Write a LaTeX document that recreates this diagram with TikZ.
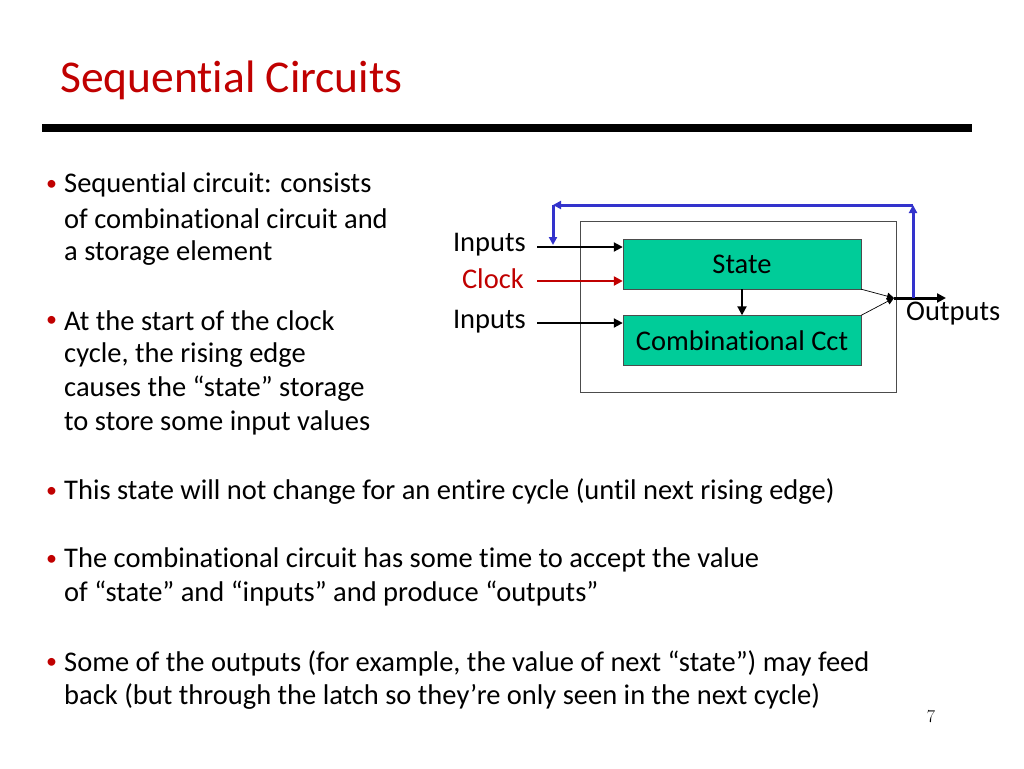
\documentclass[tikz,border=0pt]{standalone}
\usepackage{fontspec}
\setmainfont[RawFeature=-liga]{Carlito}
\usetikzlibrary{arrows.meta}
\definecolor{ttl}{RGB}{192,0,0}
\definecolor{grn}{RGB}{0,204,153}
\definecolor{fb}{RGB}{51,51,204}
\begin{document}
\begin{tikzpicture}[x=1pt,y=-1pt,
  txt/.style={anchor=west,inner sep=0pt,font=\fontsize{28.5}{32}\selectfont},
  lbl/.style={anchor=east,inner sep=0pt,font=\fontsize{28.5}{32}\selectfont},
  blk/.style={draw=black!70,fill=grn,minimum width=238pt,minimum height=50pt,inner sep=0pt,font=\fontsize{28.5}{32}\selectfont},
  arr/.style={-{Triangle[length=9pt,width=9pt]},line width=2pt}]
\useasboundingbox (0,0) rectangle (1024,768);
\node[anchor=base west,inner sep=0pt,text=ttl,font=\fontsize{45.5}{50}\selectfont] (title) at (60,92) {Sequential Circuits};
\draw[line width=8pt] (42,128) -- (972,128);
% bullets
\foreach \y/\t/\b [count=\i] in {
 185/Sequential circuit: consists/1, 219/of combinational circuit and/0, 253/a storage element/0,
 321/At the start of the clock/1, 355/{cycle, the rising edge}/0, 389/causes the “state” storage/0, 423/to store some input values/0,
 492/This state will not change for an entire cycle (until next rising edge)/1,
 560/The combinational circuit has some time to accept the value/1, 594/of “state” and “inputs” and produce “outputs”/0,
 663/{Some of the outputs (for example, the value of next “state”) may feed}/1, 697/back (but through the latch so they’re only seen in the next cycle)/0}
 {\node[txt] (l\i) at (64,\y) {\t};
  \ifnum\b=1 \node[txt,font=\fontsize{22}{24}\selectfont,text=ttl] (d\i) at (46,\y) {•};\fi}
% diagram
\node[draw=black!70,line width=1pt,minimum width=316pt,minimum height=171pt,inner sep=0pt] (outer) at (738,306.5) {};
\node[blk] (state) at (742,264) {State};
\node[blk] (comb) at (742,340.5) {Combinational Cct};
\node[lbl] (in1) at (526,245) {Inputs};
\node[lbl,text=ttl] (clk) at (524,279) {Clock};
\node[lbl] (in2) at (526,322) {Inputs};
\coordinate (s1) at (537,247); \coordinate (s2) at (537,281); \coordinate (s3) at (537,323);
\draw[arr] (s1) -- (state.west |- s1);
\draw[arr,color=ttl,line width=2.5pt] (s2) -- (state.west |- s2);
\draw[arr] (s3) -- (comb.west |- s3);
\draw[arr] (state.south) -- (comb.north);
\coordinate (j) at (894,298);
\draw[-{Triangle[length=7pt,width=7pt]},line width=0.7pt] (state.south east) -- (j);
\draw[-{Triangle[length=7pt,width=7pt]},line width=0.7pt] (comb.north east) -- (j);
\coordinate (o) at (946,298);
\draw[arr,line width=3pt] (j) -- (o);
\node[anchor=west,inner sep=0pt,font=\fontsize{28.5}{32}\selectfont] (outl) at (906,314) {Outputs};
\coordinate (b0) at (913,298); \coordinate (b1) at (913,205); \coordinate (b2) at (553,205); \coordinate (b3) at (553,245);
\draw[fb,line width=3pt,-{Triangle[length=8pt,width=8pt]}] (b0) -- (b1);
\draw[fb,line width=3pt,-{Triangle[length=8pt,width=8pt]}] (b1) -- (b2);
\draw[fb,line width=3pt,-{Triangle[length=8pt,width=8pt]}] (b2) -- (b3);
\node[inner sep=0pt,font=\fontfamily{lmr}\fontsize{18}{20}\selectfont] (pg) at (931,717) {7};
\end{tikzpicture}
\end{document}
